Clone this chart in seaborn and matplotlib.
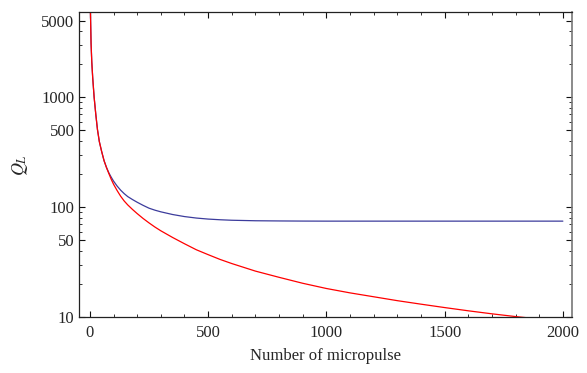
import seaborn as sns
import matplotlib
matplotlib.use("Agg")
import matplotlib.pyplot as plt
from matplotlib.ticker import FixedLocator, FixedFormatter, MultipleLocator, NullFormatter
import pandas as pd

# values
pulse = [2, 5, 8, 12, 18, 25, 32, 40, 50, 60, 70, 80, 90, 100, 115, 130,
         145, 160, 180, 200, 225, 250, 275, 300, 350, 400, 450, 500, 550,
         600, 700, 800, 900, 1000, 1100, 1200, 1300, 1400, 1500, 1600,
         1700, 1800, 1900, 2000]
q_blue = [6500, 3100, 2100, 1500, 1000, 700, 510, 395, 320, 265, 231, 206,
          188, 173, 156, 143, 133, 125, 117.5, 111, 104, 98, 94, 90.8, 85.8,
          82.2, 79.7, 78, 76.9, 76.1, 75.3, 75, 74.8, 74.7, 74.7, 74.7,
          74.7, 74.7, 74.7, 74.7, 74.7, 74.7, 74.7, 74.7]
q_red = [6500, 3100, 2100, 1500, 1000, 700, 510, 395, 320, 265, 230, 203,
         180, 162, 142, 126, 114, 105, 95.5, 87.5, 79, 72, 66, 61, 53, 46.5,
         41, 37, 33.5, 30.7, 26.2, 23, 20.3, 18.2, 16.6, 15.3, 14.1, 13.1,
         12.2, 11.4, 10.7, 10.1, 9.6, 9.1]

y_major = [10, 50, 100, 500, 1000, 5000]


def create_plot(df):
    fig = plt.figure(figsize=(5.87, 3.73), dpi=100)
    ax = fig.add_axes([0.135, 0.150, 0.840, 0.818])

    sns.lineplot(x="pulse", y="blue", data=df, ax=ax, color="#3c3c9c", lw=0.9)
    sns.lineplot(x="pulse", y="red", data=df, ax=ax, color="#ff0000", lw=0.9)

    ax.set_yscale("log")
    ax.set_xlim(-45, 2040)
    ax.set_ylim(10, 6000)

    ax.xaxis.set_major_locator(MultipleLocator(500))
    ax.xaxis.set_minor_locator(MultipleLocator(100))
    ax.yaxis.set_major_locator(FixedLocator(y_major))
    ax.yaxis.set_major_formatter(FixedFormatter([str(v) for v in y_major]))
    minors = [m * 10 ** e for e in range(1, 4) for m in range(2, 10) if m != 5]
    ax.yaxis.set_minor_locator(FixedLocator(minors))
    ax.yaxis.set_minor_formatter(NullFormatter())

    ax.tick_params(axis="both", which="both", direction="in",
                   top=True, right=True, labelsize=12, color="#111111")
    ax.tick_params(which="major", length=4.5, width=0.8)
    ax.tick_params(which="minor", length=2.5, width=0.6)
    ax.tick_params(axis="x", pad=6)

    for side in ["left", "bottom", "top"]:
        ax.spines[side].set_color("#222222")
        ax.spines[side].set_linewidth(0.9)
    ax.spines["right"].set_color("#777777")
    ax.spines["right"].set_linewidth(1.2)

    ax.set_xlabel("Number of micropulse", fontsize=12, labelpad=5)
    ax.set_ylabel("$Q_L$", fontsize=13, labelpad=8)
    ax.grid(False)
    return fig


def main():
    sns.set_style("ticks")
    plt.rcParams["font.family"] = ["Liberation Serif", "DejaVu Serif"]
    plt.rcParams["mathtext.fontset"] = "stix"

    df = pd.DataFrame({"pulse": pulse, "blue": q_blue, "red": q_red})
    fig = create_plot(df)
    fig.savefig("out.png", dpi=100)
    plt.close(fig)


if __name__ == "__main__":
    main()
